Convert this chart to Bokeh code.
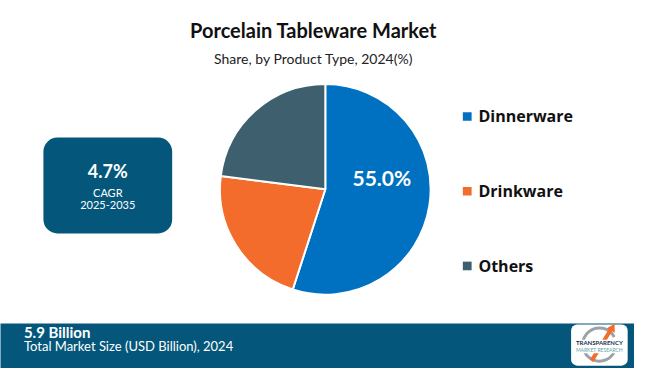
import numpy as np
from bokeh.plotting import figure
from bokeh.models import ColumnDataSource, Range1d, BoxAnnotation
from bokeh.core.properties import value
from bokeh.embed import file_html
from bokeh.resources import INLINE

# ---- data ----
categories = ["Dinnerware", "Drinkware", "Others"]
shares = [55.0, 22.0, 23.0]
colors = ["#0070C0", "#F36C2C", "#3E5F6E"]
title = "Porcelain Tableware Market"
subtitle = "Share, by Product Type, 2024(%)"
cagr_value = "4.7%"
cagr_label = "CAGR"
cagr_period = "2025-2035"
market_size = "5.9 Billion"
market_label = "Total Market Size (USD Billion), 2024"

DARK = "#04577A"

def Y(ry):
    return 384 - ry

p = figure(width=634, height=368, x_range=Range1d(0, 650), y_range=Range1d(0, 384),
           output_backend="svg", toolbar_location=None, min_border=0)
p.axis.visible = False
p.grid.visible = False
p.outline_line_color = None
p.background_fill_color = "white"
p.border_fill_color = "white"

# ---- pie ----
frac = np.array(shares) / sum(shares)
cum = np.concatenate([[0], np.cumsum(frac)])
start = np.pi / 2 - 2 * np.pi * cum[:-1]
end = np.pi / 2 - 2 * np.pi * cum[1:]
src = ColumnDataSource(dict(cat=categories, start=start, end=end, color=colors))
cx, cy, r = 333, Y(197), 108
p.wedge(x=cx, y=cy, radius=r, start_angle="start", end_angle="end", direction="clock",
        fill_color="color", line_color="white", line_width=2, source=src)

p.text(x=[391], y=[Y(185)], text=[f"{shares[0]:.1f}%"], text_color="white",
       text_font=value("Lato"), text_font_style="bold", text_font_size="21px",
       text_align="center", text_baseline="middle")

# ---- titles ----
p.text(x=[321], y=[Y(31)], text=[title], text_color="#111111", text_font=value("Lato"),
       text_font_style="bold", text_font_size="20px", text_align="center", text_baseline="middle")
p.text(x=[321], y=[Y(61)], text=[subtitle], text_color="#222222", text_font=value("Lato"),
       text_font_size="14px", text_align="center", text_baseline="middle")

# ---- legend ----
leg_y = [Y(121), Y(199), Y(277)]
p.rect(x=[478.5] * 3, y=leg_y, width=9, height=9, fill_color=colors, line_color=None)
p.text(x=[490] * 3, y=leg_y, text=categories, text_color="#111111", text_font=value("Open Sans"),
       text_font_style="bold", text_font_size="16px", text_align="left", text_baseline="middle")

# ---- CAGR box ----
p.add_layout(BoxAnnotation(left=44, right=176, top=Y(143), bottom=Y(243), fill_color=DARK,
                           fill_alpha=1, line_color=None, border_radius=14, level="underlay"))
p.text(x=[110], y=[Y(178)], text=[cagr_value], text_color="white", text_font=value("Lato"),
       text_font_style="bold", text_font_size="18px", text_align="center", text_baseline="middle")
p.text(x=[110, 110], y=[Y(200), Y(213)], text=[cagr_label, cagr_period], text_color="white",
       text_font=value("Lato"), text_font_size="11px", text_align="center", text_baseline="middle")

# ---- bottom bar ----
p.add_layout(BoxAnnotation(left=-10, right=660, top=Y(337), bottom=-10, fill_color=DARK,
                           fill_alpha=1, line_color=None, level="underlay"))
p.text(x=[24], y=[Y(346)], text=[market_size], text_color="white", text_font=value("Lato"),
       text_font_style="bold", text_font_size="15px", text_align="left", text_baseline="middle")
p.text(x=[24], y=[Y(361)], text=[market_label], text_color="white", text_font=value("Lato"),
       text_font_size="13px", text_align="left", text_baseline="middle")

# ---- logo ----
p.add_layout(BoxAnnotation(left=585, right=643, top=Y(338), bottom=Y(381), fill_color="white",
                           fill_alpha=1, line_color=None, border_radius=6, level="underlay"))
p.arc(x=[614], y=[Y(359)], radius=17, start_angle=np.pi * 0.15, end_angle=np.pi * 1.85,
      line_color="#9AA3A8", line_width=3)
p.line(x=[606, 626], y=[Y(376), Y(343)], line_color="#F36C2C", line_width=4)
p.triangle(x=[627], y=[Y(342)], size=9, angle=-0.5, fill_color="#F36C2C", line_color=None)
p.rect(x=[614], y=[Y(361)], width=52, height=14, fill_color="white", line_color=None)
p.text(x=[614], y=[Y(357)], text=["TRANSPARENCY"], text_color="#1B2F4E", text_font=value("Lato"),
       text_font_style="bold", text_font_size="6px", text_align="center", text_baseline="middle")
p.text(x=[614], y=[Y(365)], text=["MARKET RESEARCH"], text_color="#5FA3A8", text_font=value("Lato"),
       text_font_size="5px", text_align="center", text_baseline="middle")

open("out.html", "w").write(file_html(p, INLINE))
